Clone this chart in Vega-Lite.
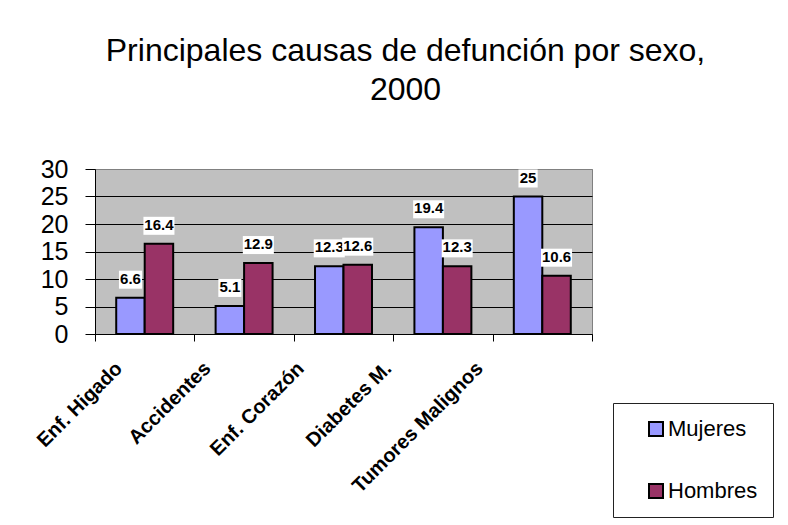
{
  "$schema": "https://vega.github.io/schema/vega-lite/v6.json",
  "width": 497,
  "height": 165,
  "autosize": {"type": "none"},
  "padding": {"left": 95, "top": 169, "right": 196, "bottom": 191},
  "background": "white",
  "config": {
    "font": "Liberation Sans",
    "view": {"fill": "#C0C0C0", "stroke": "#808080", "strokeWidth": 1}
  },
  "title": {
    "text": ["Principales causas de defunción por sexo,", "2000"],
    "font": "Liberation Sans",
    "fontSize": 32,
    "fontWeight": "normal",
    "color": "black",
    "lineHeight": 39,
    "anchor": "middle",
    "frame": "group",
    "dx": 62,
    "offset": 50
  },
  "data": {
    "values": [
      {"cause": "Enf. Higado", "sex": "Mujeres", "value": 6.6},
      {"cause": "Enf. Higado", "sex": "Hombres", "value": 16.4},
      {"cause": "Accidentes", "sex": "Mujeres", "value": 5.1},
      {"cause": "Accidentes", "sex": "Hombres", "value": 12.9},
      {"cause": "Enf. Corazón", "sex": "Mujeres", "value": 12.3},
      {"cause": "Enf. Corazón", "sex": "Hombres", "value": 12.6},
      {"cause": "Diabetes M.", "sex": "Mujeres", "value": 19.4},
      {"cause": "Diabetes M.", "sex": "Hombres", "value": 12.3},
      {"cause": "Tumores Malignos", "sex": "Mujeres", "value": 25},
      {"cause": "Tumores Malignos", "sex": "Hombres", "value": 10.6}
    ]
  },
  "encoding": {
    "x": {
      "field": "cause",
      "type": "nominal",
      "sort": ["Enf. Higado", "Accidentes", "Enf. Corazón", "Diabetes M.", "Tumores Malignos"],
      "scale": {"paddingInner": 0, "paddingOuter": 0},
      "axis": {
        "title": null,
        "labelAngle": -45,
        "labelAlign": "right",
        "labelBaseline": "middle",
        "labelFontSize": 20,
        "labelFontWeight": "bold",
        "labelColor": "black",
        "labelPadding": 24,
        "labelOverlap": false,
        "labelOffset": {
          "condition": [
            {"test": "datum.value === 'Enf. Higado'", "value": -26},
            {"test": "datum.value === 'Accidentes'", "value": -37},
            {"test": "datum.value === 'Enf. Corazón'", "value": -43},
            {"test": "datum.value === 'Diabetes M.'", "value": -55}
          ],
          "value": -63
        },
        "tickBand": "extent",
        "tickSize": 7,
        "tickColor": "black",
        "domainColor": "black",
        "domainWidth": 1
      }
    },
    "xOffset": {
      "field": "sex",
      "type": "nominal",
      "sort": ["Mujeres", "Hombres"],
      "scale": {"paddingInner": 0, "paddingOuter": 0.745}
    },
    "y": {
      "field": "value",
      "type": "quantitative",
      "scale": {"domain": [0, 30], "nice": false},
      "axis": {
        "title": null,
        "values": [0, 5, 10, 15, 20, 25, 30],
        "labelFontSize": 25,
        "labelColor": "black",
        "labelPadding": 17,
        "labelBaseline": "middle",
        "tickSize": 10,
        "tickColor": "black",
        "domainColor": "black",
        "gridColor": {"condition": {"test": "datum.value === 30", "value": "#808080"}, "value": "black"},
        "gridOpacity": 1,
        "gridWidth": 1
      }
    }
  },
  "layer": [
    {
      "mark": {"type": "bar", "stroke": "black", "strokeWidth": 2},
      "encoding": {
        "color": {
          "field": "sex",
          "type": "nominal",
          "sort": ["Mujeres", "Hombres"],
          "scale": {"domain": ["Mujeres", "Hombres"], "range": ["#9999FF", "#993366"]},
          "legend": {
            "orient": "none",
            "legendX": 518,
            "legendY": 234,
            "title": null,
            "padding": 15,
            "strokeColor": "#222222",
            "fillColor": "white",
            "symbolType": "square",
            "symbolSize": 196,
            "symbolStrokeColor": "black",
            "symbolStrokeWidth": 2,
            "symbolOpacity": 1,
            "symbolOffset": 17,
            "labelOffset": 1,
            "labelFontSize": 22,
            "labelColor": "black",
            "rowPadding": 40
          }
        }
      }
    },
    {
      "transform": [{"filter": "datum.sex === 'Mujeres'"}],
      "mark": {"type": "point", "filled": true, "color": "white", "opacity": 1, "strokeWidth": 0, "size": 1024, "yOffset": -18},
      "encoding": {
        "shape": {
          "condition": [
            {"test": "datum.value === 25", "value": "M-0.6,-0.5625H0.6V0.5625H-0.6Z"},
            {"test": "datum.value < 10", "value": "M-0.72,-0.5625H0.72V0.5625H-0.72Z"}
          ],
          "value": "M-0.97,-0.5625H0.97V0.5625H-0.97Z"
        }
      }
    },
    {
      "transform": [{"filter": "datum.sex === 'Mujeres'"}],
      "mark": {"type": "text", "fontWeight": "bold", "fontSize": 15, "color": "black", "baseline": "middle", "dy": -19},
      "encoding": {"text": {"field": "value", "type": "quantitative"}}
    },
    {
      "transform": [{"filter": "datum.sex === 'Hombres'"}],
      "mark": {"type": "point", "filled": true, "color": "white", "opacity": 1, "strokeWidth": 0, "size": 1024, "yOffset": -18},
      "encoding": {
        "shape": {
          "condition": [
            {"test": "datum.value === 25", "value": "M-0.6,-0.5625H0.6V0.5625H-0.6Z"},
            {"test": "datum.value < 10", "value": "M-0.72,-0.5625H0.72V0.5625H-0.72Z"}
          ],
          "value": "M-0.97,-0.5625H0.97V0.5625H-0.97Z"
        }
      }
    },
    {
      "transform": [{"filter": "datum.sex === 'Hombres'"}],
      "mark": {"type": "text", "fontWeight": "bold", "fontSize": 15, "color": "black", "baseline": "middle", "dy": -19},
      "encoding": {"text": {"field": "value", "type": "quantitative"}}
    }
  ]
}
